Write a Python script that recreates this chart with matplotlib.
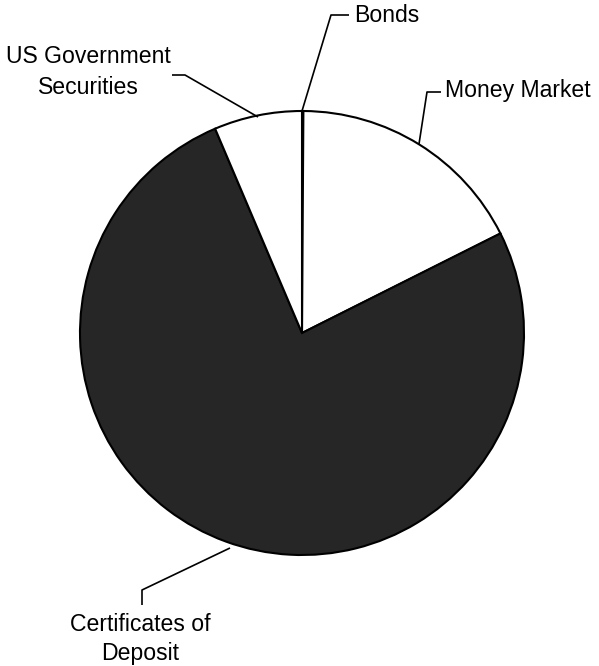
import matplotlib.pyplot as plt

# Investment mix, percent of total
labels = ['Bonds', 'Money Market', 'Certificates of\nDeposit', 'US Government\nSecurities']
shares = [0.1, 17.5, 76.0, 6.4]
colors = ['white', 'white', '#262626', 'white']

fig = plt.figure(figsize=(5.99, 6.66), dpi=100)
ax = fig.add_axes([0, 0, 1, 1])
ax.set_aspect('equal')
ax.axis('off')

cx, cy, r = 302, 333, 222
wedges, _ = ax.pie(shares, colors=colors, startangle=90, counterclock=False,
                   center=(cx, cy), radius=r,
                   wedgeprops=dict(edgecolor='black', linewidth=1.5))
ax.set_xlim(0, 599)
ax.set_ylim(0, 666)

font = dict(family=['Liberation Sans', 'DejaVu Sans'], fontsize=16.6)

# leader lines: points in axes pixel units (y up)
def leader(pts):
    xs = [p[0] for p in pts]
    ys = [666 - p[1] for p in pts]
    ax.plot(xs, ys, color='black', lw=1.2, solid_capstyle='butt')

leader([(302, 111), (331, 15), (349, 15)])
ax.text(354, 666 - 15, labels[0], ha='left', va='center', **font)

leader([(419, 144), (427, 92), (441, 92)])
ax.text(445, 666 - 90, labels[1], ha='left', va='center', **font)

leader([(258, 117), (185, 75), (172, 75)])
ax.text(88, 666 - 72, labels[3], ha='center', va='center', linespacing=1.4, **font)

leader([(230, 548), (142, 590), (142, 605)])
ax.text(140, 666 - 639, labels[2], ha='center', va='center', linespacing=1.3, **font)

fig.savefig('out.png', dpi=100)
